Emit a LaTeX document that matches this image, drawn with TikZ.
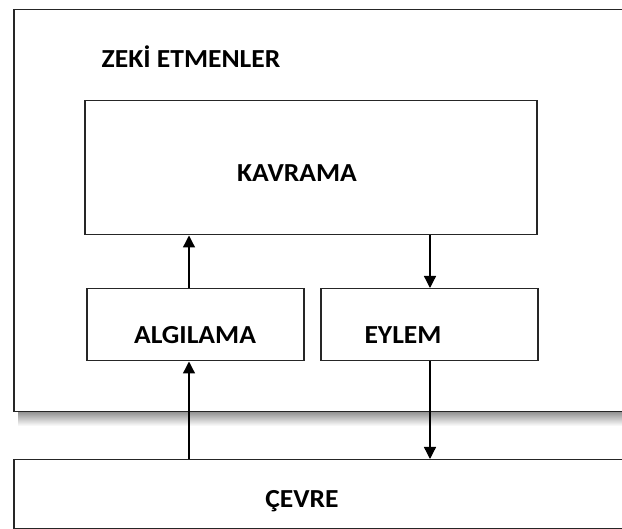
\documentclass[tikz,border=0pt]{standalone}
\usepackage{fontspec}
\setmainfont{Carlito}
\usetikzlibrary{arrows.meta}
\begin{document}
\begin{tikzpicture}[x=1pt,y=-1pt,
  box/.style={draw=black!85, line width=1.5pt, anchor=north west, inner sep=0pt, fill=white},
  lbl/.style={font=\bfseries\fontsize{26}{26}\selectfont, inner sep=0pt, anchor=base},
  arr/.style={line width=1.3pt, draw=black, -{Triangle[width=12pt,length=12pt]}}]
\clip (0,0) rectangle (622,529);
\fill[white] (0,0) rectangle (622,529);
% soft shadow under the agent frame
\shade[top color=black!45, bottom color=white] (18,411) rectangle (640,426);
% frames
\node[box, minimum width=640pt, minimum height=402pt] (agent) at (13,9) {};
\node[box, minimum width=640pt, minimum height=69pt] (env) at (13,459) {};
\node[box, minimum width=452pt, minimum height=134pt] (kav) at (84,100) {};
\node[box, minimum width=217pt, minimum height=72pt] (alg) at (86,288) {};
\node[box, minimum width=217pt, minimum height=72pt] (eyl) at (320,288) {};
% labels
\node[lbl] (tagent) at (191,68) {\scalebox{1.06}[1]{ZEKİ ETMENLER}};
\node[lbl] (tkav) at (297,182) {\scalebox{1.06}[1]{KAVRAMA}};
\node[lbl] (talg) at (195,344) {\scalebox{1.06}[1]{ALGILAMA}};
\node[lbl] (teyl) at (403,344) {\scalebox{1.06}[1]{EYLEM}};
\node[lbl] (tenv) at (302,508) {\scalebox{1.06}[1]{ÇEVRE}};
% arrow columns
\coordinate (up) at (189,0);
\coordinate (down) at (430,0);
% connectors
\draw[arr] (alg.north -| up) -- (kav.south -| up);
\draw[arr] (kav.south -| down) -- (eyl.north -| down);
\draw[arr] (env.north -| up) -- (alg.south -| up);
\draw[arr] (eyl.south -| down) -- (env.north -| down);
\end{tikzpicture}
\end{document}
